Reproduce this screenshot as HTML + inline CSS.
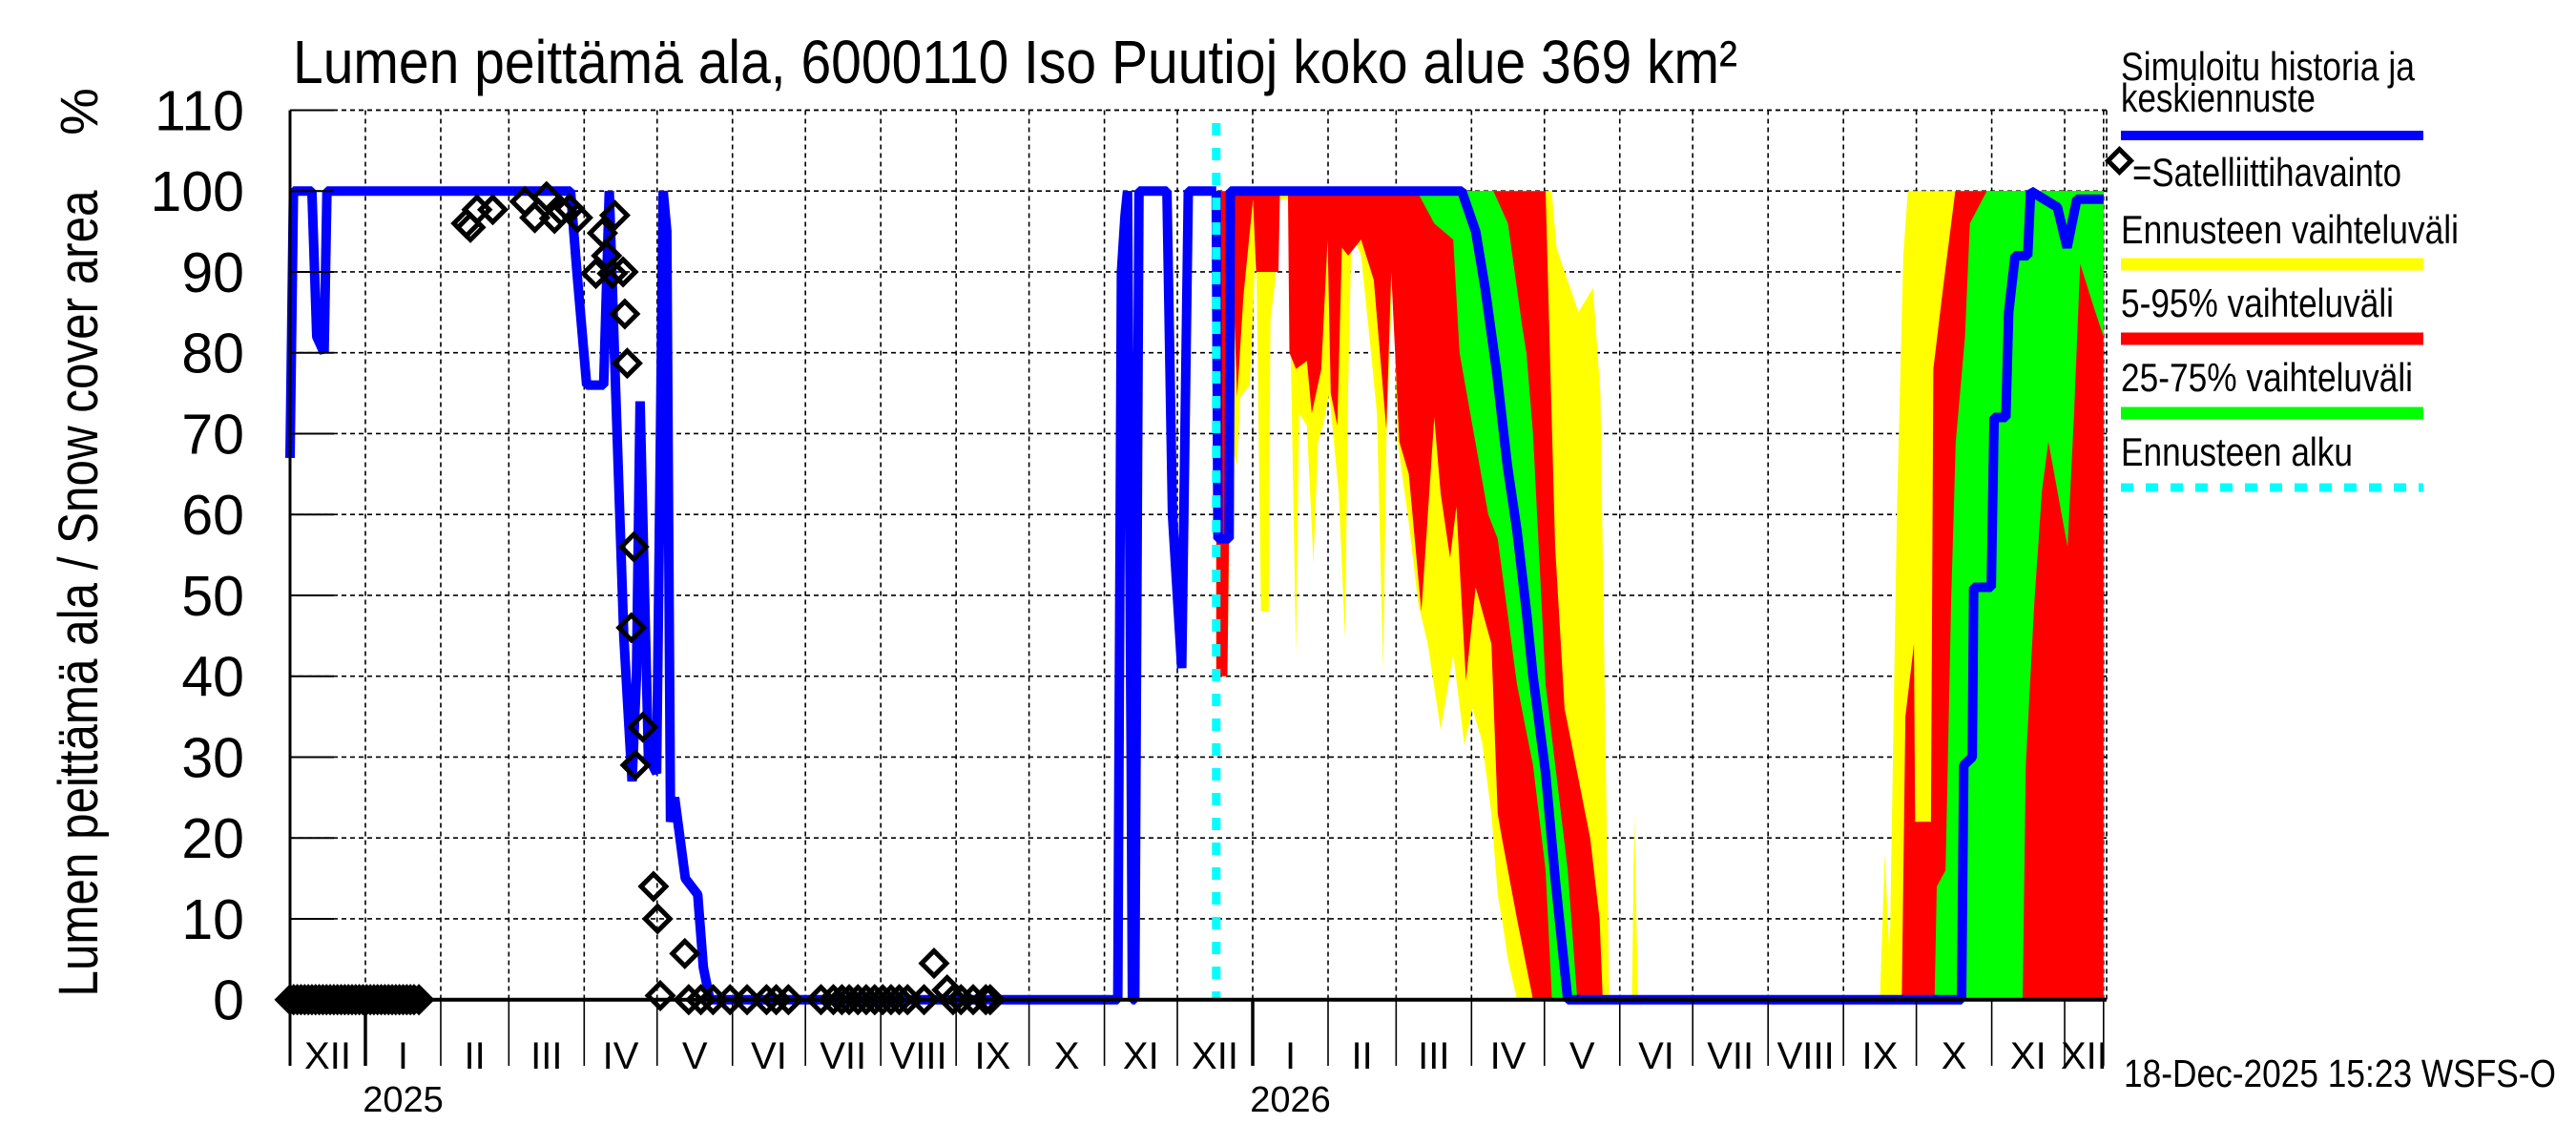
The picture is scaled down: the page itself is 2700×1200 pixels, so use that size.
<!DOCTYPE html>
<html><head><meta charset="utf-8"><title>Lumen peittämä ala</title>
<style>html,body{margin:0;padding:0;background:#fff}svg{display:block}text{font-family:"Liberation Sans",sans-serif;fill:#000}</style>
</head><body>
<svg id="chart" width="2700" height="1200" viewBox="0 0 2700 1200" xmlns="http://www.w3.org/2000/svg">
<rect width="2700" height="1200" fill="#fff"/>
<g id="grid"></g>
<g id="bands"></g>
<g id="lines"></g>
<g id="axes"></g>
<g id="sats"></g>
<text x="307" y="87" font-size="64" textLength="1514" lengthAdjust="spacingAndGlyphs">Lumen peittämä ala, 6000110 Iso Puutioj koko alue 369 km²</text>
<text transform="translate(102,622) rotate(-90)" text-anchor="middle" font-size="58" textLength="845" lengthAdjust="spacingAndGlyphs">Lumen peittämä ala / Snow cover area</text>
<text transform="translate(102,117) rotate(-90)" text-anchor="middle" font-size="56">%</text>
<g>
<text x="2223" y="84" font-size="42" textLength="308" lengthAdjust="spacingAndGlyphs">Simuloitu historia ja</text>
<text x="2223" y="117" font-size="42" textLength="204" lengthAdjust="spacingAndGlyphs">keskiennuste</text>
<line x1="2223" y1="142" x2="2540" y2="142" stroke="#0000ff" stroke-width="10"/>
<rect x="2213" y="160" width="17" height="17" transform="rotate(45 2221.5 168.5)" fill="none" stroke="#000" stroke-width="5"/>
<text x="2235" y="195" font-size="42" textLength="282" lengthAdjust="spacingAndGlyphs">=Satelliittihavainto</text>
<text x="2223" y="255" font-size="42" textLength="354" lengthAdjust="spacingAndGlyphs">Ennusteen vaihteluväli</text>
<line x1="2223" y1="277" x2="2540" y2="277" stroke="#ffff00" stroke-width="13"/>
<text x="2223" y="332" font-size="42" textLength="286" lengthAdjust="spacingAndGlyphs">5-95% vaihteluväli</text>
<line x1="2223" y1="355" x2="2540" y2="355" stroke="#ff0000" stroke-width="13"/>
<text x="2223" y="410" font-size="42" textLength="306" lengthAdjust="spacingAndGlyphs">25-75% vaihteluväli</text>
<line x1="2223" y1="433" x2="2540" y2="433" stroke="#00ff00" stroke-width="13"/>
<text x="2223" y="488" font-size="42" textLength="243" lengthAdjust="spacingAndGlyphs">Ennusteen alku</text>
<line x1="2223" y1="511" x2="2540" y2="511" stroke="#00ffff" stroke-width="9" stroke-dasharray="13,13"/>
</g>
<text x="2226" y="1139" font-size="41" textLength="453" lengthAdjust="spacingAndGlyphs">18-Dec-2025 15:23 WSFS-O</text>
</svg>
<script>
// days since 1 Dec 2024
const yTicks = [0,10,20,30,40,50,60,70,80,90,100,110];
const monthStarts = [0,31,62,90,121,151,182,212,243,274,304,335,365,396,427,455,486,516,547,577,608,639,669,700,730,746];
const monthLabels = ["XII","I","II","III","IV","V","VI","VII","VIII","IX","X","XI","XII","I","II","III","IV","V","VI","VII","VIII","IX","X","XI","XII"];
const yearTickDays = [31,396];
const yearLabelDays = [46.5,411.5];
const yearLabels = ["2025","2026"];
const forecastStart = 381;

const histDays = [0,1.4,9,11,14,15.2,115.4,118,122,129,131.3,134,137.3,140.7,142.5,144,147.4,150.8,152,153.5,155,156.5,158.2,162.6,167.7,170,172.7,340.5,342,343.5,344.5,346,346.5,347.5,349.2,360.7,363,366.8,369.5,381];
const histVals = [67,100,100,82,80,100,100,90,76,76,100,75,45,27,40,74,30,28,60,100,95,22,25,15,13,4,0,0,90,97,100,30,0,0,100,100,60,41,100,100];

const medDays = [381,381.7,386.3,386.8,482,487.7,491.6,496.2,500.8,504.7,508.6,511.3,516.5,520.4,525.6,687.6,688.5,692,692.6,699.8,701,705.8,707,709.6,714.8,716,727,731,735,746];
const medVals = [100,57,57,100,100,95,88,78,66,58,48,40,28,15,0,0,29,30,51,51,72,72,85,92,92,100,98,93,99,99];

const yelHiDays = [381,519,521,530,536,539,540,542.7,552,553,554.5,654,656,658,661,663.6,665.5,746];
const yelHi = [100,100,93,85,88,75,55,0,0,23,0,0,18,5,60,92,100,100];
const yelLoDays = [381,385.6,386.9,389.6,390.9,394.8,397.4,399.4,402.6,403.3,405.3,407.2,410.5,412.5,413.8,415.1,418.3,421,422.9,424.9,427.5,431.4,434,435.3,436.7,440.6,444.5,447.1,449.7,451,453.7,455.6,460.2,464.1,468,473.3,478.5,483.1,486.4,490.3,494.2,496.8,498.5,501,504.7,746];
const yelLo = [40,40.7,69,66,74.5,76,94,48,48,84,89,99,99,66,42.7,72.5,71,54,69,71,75,62.6,44.7,76,95,92,80.5,72.5,40.7,69,91,69,59,49,44,33.4,42.7,31.5,36,32,23,13,10,5,0,0];

const redHiDays = [381,516.5,520.4,524.3,534.8,538.7,540,663,664.5,668,668.5,675,676,680,685,746];
const redHi = [100,100,56,36,20,10,0,0,35,44,22,22,78,88,100,100];
const redLoDays = [381,385.6,387.6,389.6,392.2,396.1,397.4,406.6,407.2,410.5,411.1,413.8,418.3,420.3,424.2,426.8,428.1,430.8,432.7,435.3,440.6,445.8,451,453,456.3,460.2,465.4,470.7,473.3,477.2,479.8,483.7,487.7,494.2,496.8,498.5,504.7,511.3,746];
const redLo = [40,40,92,74.5,87,99,90,90,99.5,99.5,80,78,79,72.5,78,94,75,71,93,92,94,89,70.5,90,69,65,48,72,62.6,54.6,61,39.4,51,44,23,20,10,0,0];

const grnHiDays = [381,495,501,507,508.6,511.3,516.5,525.6,529.5,676.5,677.4,681,682,683.3,685.2,689,691,698,746];
const grnHi = [100,100,96,83,80,70,39,16,0,0,14,16,30,49,69,82,96,100,100];
const grnLoDays = [381,462.8,464.1,470.7,478.5,481.1,486.4,492.9,496.8,504.7,511.3,516.5,519.1,712.7,714,717.5,720.7,723.3,731.2,733.8,736.4,741.6,746];
const grnLo = [100,100,99.7,96,94,80,71,60,57,39,29,16,0,0,29,49,63,69,56,72,91,86,82];

const satDays = [0,1.5,3,4.5,6,7.5,9,10.5,12,13.5,15,16.5,18,19.5,21,22.5,24,25.5,27,28.5,30,31.5,33,34.5,36,37.5,39,40.5,42,43.5,45,46.5,48,49.5,51,53,
72.5,74.2,76.9,83.4,96.6,100.7,105.5,108.8,111.6,115,118.3,125.8,128.5,130.2,132.6,133.6,137,137.7,138.7,140.4,141.4,142.1,145.1,149.5,151.2,152.3,162.4,
164,169,174,181,188,196,200,205,218.4,223.5,227,230,233.6,237,240.5,243.8,247.2,250.6,254,260.8,264.9,270.3,272.7,276,281,286.2,288];
const satVals = [0,0,0,0,0,0,0,0,0,0,0,0,0,0,0,0,0,0,0,0,0,0,0,0,0,0,0,0,0,0,0,0,0,0,0,0,
96,95.5,97.7,97.7,98.7,96.7,99.3,96.6,97.5,97.8,96.7,89.8,94.8,92,89.8,97,90,84.8,78.7,46,56,29,33.7,14,10,0.5,5.7,
0,0,0,0,0,0,0,0,0,0,0,0,0,0,0,0,0,0,0,0,4.5,1.2,0,0,0,0,0];

const X0 = 304, PXD = 2.548, Y0 = 1047.7, PXV = 8.475, XR = 2208;
function xs(d){ return X0 + d*PXD; }
function ys(v){ return Y0 - v*PXV; }
const NS = "http://www.w3.org/2000/svg";
function mk(tag, parent, attrs){ const e = document.createElementNS(NS, tag); for (const k in attrs) e.setAttribute(k, attrs[k]); parent.appendChild(e); return e; }
const gGrid = document.getElementById('grid'), gBands = document.getElementById('bands'), gLines = document.getElementById('lines'), gAxes = document.getElementById('axes'), gSats = document.getElementById('sats');

yTicks.forEach(v => { if (v === 0) return;
  const l = mk('line', gGrid, {x1:X0, x2:XR, y1:ys(v), y2:ys(v), stroke:'#000', 'stroke-width':1.6, 'stroke-dasharray':'5,4'});
  
  
});
monthStarts.forEach(d => { if (d === 0) return;
  const l = mk('line', gGrid, {x1:xs(d), x2:xs(d), y1:ys(110), y2:Y0, stroke:'#000', 'stroke-width':1.6, 'stroke-dasharray':'5,4'});
  
  
});

function band(hiD, hi, loD, lo, color, name){
  let pts = [];
  hiD.forEach((d,i) => pts.push(xs(d).toFixed(1)+','+ys(hi[i]).toFixed(1)));
  for (let i = loD.length-1; i >= 0; i--) pts.push(xs(loD[i]).toFixed(1)+','+ys(lo[i]).toFixed(1));
  const p = mk('polygon', gBands, {points: pts.join(' '), fill: color});
  
  
}
band(yelHiDays, yelHi, yelLoDays, yelLo, '#ffff00', 'band-min-max');
band(redHiDays, redHi, redLoDays, redLo, '#ff0000', 'band-5-95');
band(grnHiDays, grnHi, grnLoDays, grnLo, '#00ff00', 'band-25-75');

function poly(days, vals, name){
  const pts = days.map((d,i) => xs(d).toFixed(1)+','+ys(vals[i]).toFixed(1)).join(' ');
  const p = mk('polyline', gLines, {points: pts, fill:'none', stroke:'#0000ff', 'stroke-width':10, 'stroke-linejoin':'bevel'});
  
  
}
poly(histDays, histVals, 'simulated-history-line');
poly(medDays, medVals, 'median-forecast-line');

const fcLine = mk('line', gLines, {x1:xs(forecastStart), x2:xs(forecastStart), y1:129, y2:Y0, stroke:'#00ffff', 'stroke-width':9, 'stroke-dasharray':'13,13'});



const topBorder = mk('line', gAxes, {x1:X0, x2:XR, y1:ys(110), y2:ys(110), stroke:'#000', 'stroke-width':1.6, 'stroke-dasharray':'5,4'});


const rightBorder = mk('line', gAxes, {x1:XR, x2:XR, y1:ys(110), y2:Y0, stroke:'#000', 'stroke-width':1.6, 'stroke-dasharray':'5,4'});


const yAxisLine = mk('line', gAxes, {x1:X0, x2:X0, y1:ys(110), y2:1117, stroke:'#000', 'stroke-width':3});


const xAxisLine = mk('line', gAxes, {x1:X0, x2:XR, y1:Y0, y2:Y0, stroke:'#000', 'stroke-width':4});


yTicks.forEach(v => {
  const t = mk('line', gAxes, {x1:X0, x2:X0+46, y1:ys(v), y2:ys(v), stroke:'#000', 'stroke-width':2});
  
  
  const tx = mk('text', gAxes, {x:256, y:ys(v)+21, 'text-anchor':'end', 'font-size':59});
  tx.textContent = String(v);
  
  
});
monthStarts.forEach(d => {
  const thick = yearTickDays.includes(d);
  const t = mk('line', gAxes, {x1:xs(d), x2:xs(d), y1:Y0, y2:1117, stroke:'#000', 'stroke-width': thick ? 3.5 : 1.6});
  
  
});
monthLabels.forEach((m,i) => {
  const c = (xs(monthStarts[i]) + xs(monthStarts[i+1]))/2;
  const t = mk('text', gAxes, {x:c, y:1120, 'text-anchor':'middle', 'font-size':40});
  t.textContent = m;
  
  
});
yearLabels.forEach((y,i) => {
  const t = mk('text', gAxes, {x:xs(yearLabelDays[i]), y:1165, 'text-anchor':'middle', 'font-size':38});
  t.textContent = y;
  
  
});

satDays.forEach((d,i) => {
  const cx = xs(d), cy = ys(satVals[i]);
  const p = mk('polygon', gSats, {points: `${cx},${cy-13} ${cx+13},${cy} ${cx},${cy+13} ${cx-13},${cy}`, fill:'none', stroke:'#000', 'stroke-width':5});
  
  
});
</script>
</body></html>
